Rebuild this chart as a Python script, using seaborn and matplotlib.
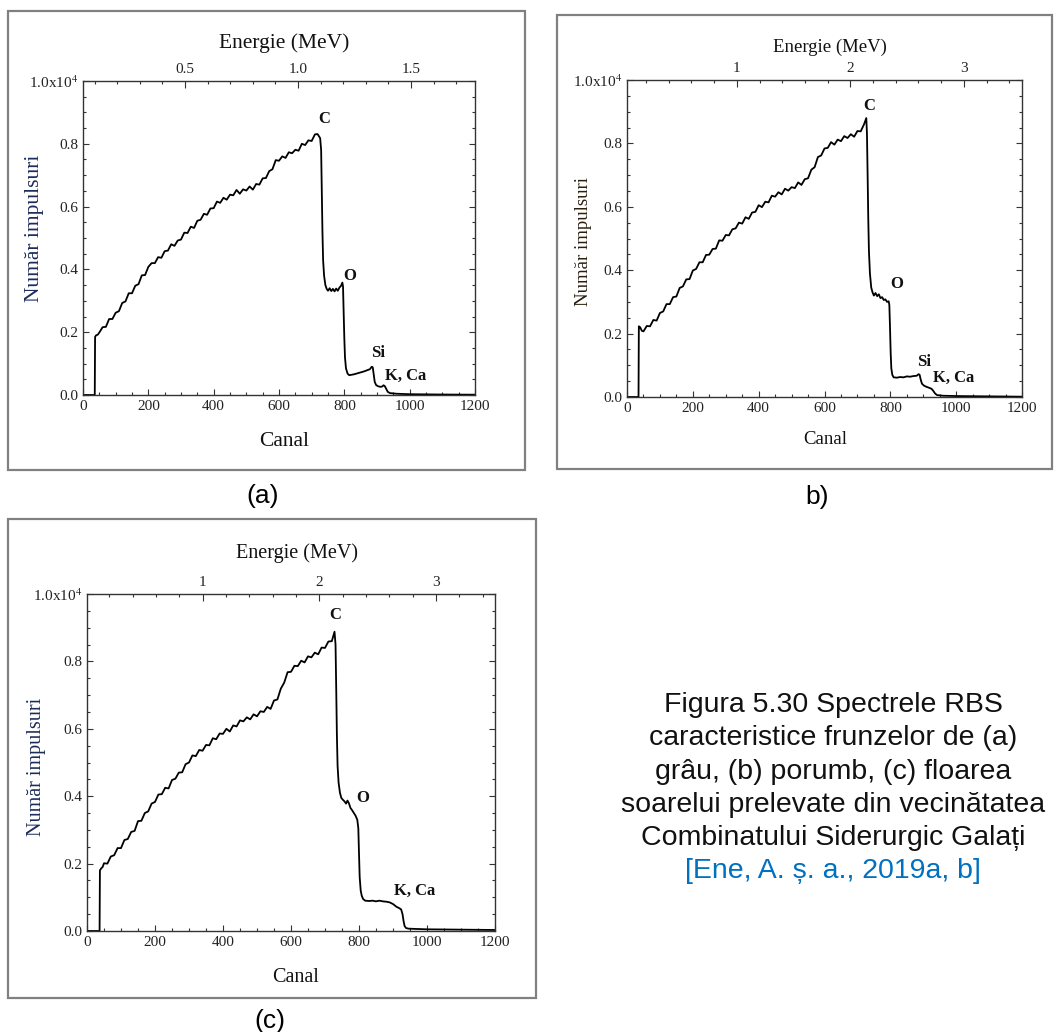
import matplotlib
matplotlib.use("Agg")
import matplotlib.pyplot as plt
import seaborn as sns
from matplotlib.patches import Rectangle
from matplotlib.ticker import MultipleLocator, FuncFormatter

# ---- data (channel, counts) ----
ch_a = [0, 36, 37, 40, 45, 50, 60, 70, 80, 90, 100, 110, 120, 130, 140, 150, 160, 170, 180, 190,
        200, 210, 220, 230, 240, 250, 260, 270, 280, 290, 300, 310, 320, 330, 340, 350, 360, 370,
        380, 390, 400, 410, 420, 430, 440, 450, 460, 470, 480, 490, 500, 510, 520, 530, 540, 550,
        560, 570, 580, 590, 600, 610, 620, 630, 640, 650, 660, 670, 680, 690, 700, 710, 718, 726,
        729, 731, 733, 735, 738, 742, 746, 750, 755, 760, 765, 770, 775, 780, 785, 790, 794, 796,
        798, 800, 802, 805, 810, 815, 820, 830, 840, 850, 860, 870, 878, 884, 887, 890, 893, 897,
        903, 910, 916, 920, 924, 928, 933, 940, 960, 1000, 1050, 1100, 1150, 1200]
counts_a = [0, 0, 1850, 1900, 1920, 1990, 2160, 2170, 2420, 2420, 2620, 2670, 2930, 2980, 3240,
            3240, 3480, 3530, 3810, 3820, 4080, 4200, 4200, 4390, 4370, 4580, 4600, 4800, 4750,
            4920, 4950, 5170, 5160, 5360, 5320, 5550, 5580, 5770, 5740, 5940, 5950, 6160, 6120,
            6280, 6220, 6380, 6360, 6530, 6410, 6550, 6510, 6640, 6540, 6720, 6700, 6900, 6910,
            7130, 7190, 7480, 7460, 7600, 7550, 7730, 7700, 7810, 7780, 8000, 7960, 8110, 8090,
            8300, 8310, 8180, 7800, 6500, 5200, 4300, 3800, 3500, 3380, 3320, 3400, 3310, 3380,
            3300, 3390, 3320, 3420, 3480, 3580, 3450, 2600, 1800, 1200, 850, 680, 630, 640, 660,
            690, 720, 750, 790, 820, 900, 880, 650, 420, 320, 280, 260, 270, 310, 280, 200, 100,
            60, 40, 25, 20, 15, 12, 10]

ch_b = [0, 35, 36, 40, 45, 50, 60, 70, 80, 90, 100, 110, 120, 130, 140, 150, 160, 170, 180, 190,
        200, 210, 220, 230, 240, 250, 260, 270, 280, 290, 300, 310, 320, 330, 340, 350, 360, 370,
        380, 390, 400, 410, 420, 430, 440, 450, 460, 470, 480, 490, 500, 510, 520, 530, 540, 550,
        560, 570, 580, 590, 600, 610, 620, 630, 640, 650, 660, 670, 680, 690, 700, 710, 720, 727,
        729, 731, 733, 735, 738, 742, 746, 750, 755, 760, 765, 770, 775, 780, 785, 790, 795, 797,
        799, 801, 803, 806, 810, 820, 830, 840, 850, 860, 870, 880, 886, 889, 892, 896, 902, 910,
        918, 925, 930, 936, 942, 960, 1000, 1050, 1100, 1150, 1200]
counts_b = [0, 0, 2230, 2200, 2090, 2070, 2240, 2230, 2430, 2410, 2650, 2700, 2930, 2930, 3150,
            3170, 3440, 3490, 3710, 3720, 3990, 4040, 4250, 4250, 4480, 4490, 4670, 4680, 4940,
            4930, 5110, 5100, 5290, 5320, 5500, 5470, 5670, 5620, 5820, 5840, 6050, 5990, 6160,
            6140, 6350, 6320, 6460, 6390, 6570, 6510, 6620, 6590, 6770, 6690, 6870, 6900, 7170,
            7250, 7570, 7620, 7840, 7860, 8040, 7960, 8120, 8070, 8230, 8170, 8290, 8210, 8390,
            8380, 8600, 8800, 8300, 7000, 5600, 4600, 3900, 3450, 3300, 3200, 3280, 3180, 3240,
            3120, 3150, 3060, 3080, 3000, 3020, 2900, 2200, 1400, 900, 700, 620, 610, 630, 620,
            650, 640, 660, 670, 720, 700, 560, 420, 360, 320, 290, 260, 200, 110, 60, 40, 30, 25,
            20, 15, 10]

ch_c = [0, 37, 38, 42, 46, 50, 60, 70, 80, 90, 100, 110, 120, 130, 140, 150, 160, 170, 180, 190,
        200, 210, 220, 230, 240, 250, 260, 270, 280, 290, 300, 310, 320, 330, 340, 350, 360, 370,
        380, 390, 400, 410, 420, 430, 440, 450, 460, 470, 480, 490, 500, 510, 520, 530, 540, 550,
        560, 570, 580, 590, 600, 610, 620, 630, 640, 650, 660, 670, 680, 690, 700, 710, 720, 728,
        731, 733, 735, 737, 740, 744, 748, 752, 757, 762, 766, 770, 775, 780, 785, 790, 795, 798,
        800, 802, 805, 808, 812, 818, 830, 840, 850, 860, 870, 880, 890, 900, 910, 918, 924, 928,
        931, 934, 938, 945, 970, 1000, 1050, 1100, 1150, 1200]
counts_c = [0, 0, 1800, 1860, 1900, 2010, 2000, 2210, 2250, 2460, 2460, 2700, 2730, 2940, 2970,
            3260, 3270, 3500, 3550, 3780, 3830, 4050, 4060, 4250, 4230, 4480, 4520, 4700, 4710,
            4950, 5000, 5210, 5190, 5370, 5350, 5520, 5510, 5720, 5690, 5860, 5850, 6000, 5920,
            6100, 6070, 6250, 6220, 6340, 6280, 6430, 6370, 6520, 6500, 6650, 6590, 6840, 6870,
            7190, 7370, 7680, 7690, 7870, 7860, 8020, 7970, 8150, 8120, 8260, 8210, 8410, 8400,
            8590, 8600, 8880, 8500, 7200, 5800, 4900, 4400, 4100, 3950, 3900, 3850, 3780, 3870,
            3800, 3650, 3580, 3500, 3420, 3300, 3050, 2300, 1600, 1200, 1050, 950, 900, 890, 900,
            880, 900, 880, 870, 850, 800, 720, 680, 640, 500, 300, 150, 90, 70, 60, 50, 45, 40,
            35, 30]

# energy calibration E = e0 + de * channel
energy_cal = {"a": (0.049, 0.001445), "b": (0.032, 0.00290), "c": (0.009, 0.002915)}
energy_ticks = {"a": [0.5, 1.0, 1.5], "b": [1, 2, 3], "c": [1, 2, 3]}
energy_minor = {"a": 0.1, "b": 0.2, "c": 0.2}

# element labels (text, channel, counts)
peaks_a = [("C", 738, 8790), ("O", 817, 3790), ("Si", 903, 1340), ("K, Ca", 989, 610)]
peaks_b = [("C", 736, 9180), ("O", 819, 3560), ("Si", 902, 1100), ("K, Ca", 991, 600)]
peaks_c = [("C", 731, 9390), ("O", 810, 3940), ("K, Ca", 964, 1190)]

caption_lines = ["Figura 5.30 Spectrele RBS",
                 "caracteristice frunzelor de (a)",
                 "grâu, (b) porumb, (c) floarea",
                 "soarelui prelevate din vecinătatea",
                 "Combinatului Siderurgic Galați"]
caption_ref = "[Ene, A. ș. a., 2019a, b]"

sns.set_style("ticks")
plt.rcParams["font.family"] = ["Liberation Serif", "DejaVu Serif"]
plt.rcParams["mathtext.fontset"] = "stix"

W, H = 1054, 1032
fig = plt.figure(figsize=(W / 100, H / 100), dpi=100)


def rect(l, t, r, b):
    return [l / W, 1 - b / H, (r - l) / W, (b - t) / H]


def ylab_fmt(v, pos):
    if abs(v - 10000) < 1:
        return "1.0x10$^4$"
    return f"{v / 1e4:.1f}"


panels = [
    dict(key="a", ch=ch_a, y=counts_a, peaks=peaks_a, box=(83, 81, 475, 395), frame=(8, 11, 525, 470),
         etitle=(284, 43), xlab=(284, 442), ylab=(35, 228), lab_fs=15.5, tick_fs=11,
         ycol="#1c2b5a", etick_fmt="{:.1f}", caption="(a)", cap_xy=(263, 496)),
    dict(key="b", ch=ch_b, y=counts_b, peaks=peaks_b, box=(627, 80, 1022, 397), frame=(557, 15, 1052, 469),
         etitle=(830, 47), xlab=(825, 439), ylab=(583, 242), lab_fs=13.5, tick_fs=11,
         ycol="#2b1d0e", etick_fmt="{:.0f}", caption="b)", cap_xy=(817, 497)),
    dict(key="c", ch=ch_c, y=counts_c, peaks=peaks_c, box=(87, 594, 495, 931), frame=(8, 519, 536, 998),
         etitle=(297, 553), xlab=(296, 977), ylab=(37, 767), lab_fs=14.5, tick_fs=11,
         ycol="#1c2b5a", etick_fmt="{:.0f}", caption="(c)", cap_xy=(270, 1021)),
]

for p in panels:
    l, t, r, b = p["box"]
    ax = fig.add_axes(rect(l, t, r, b))
    sns.lineplot(x=p["ch"], y=p["y"], ax=ax, color="black", lw=1.3, estimator=None, sort=False)
    ax.set_xlim(0, 1200)
    ax.set_ylim(0, 10000)
    ax.xaxis.set_major_locator(MultipleLocator(200))
    ax.xaxis.set_minor_locator(MultipleLocator(50))
    ax.yaxis.set_major_locator(MultipleLocator(2000))
    ax.yaxis.set_minor_locator(MultipleLocator(500))
    ax.yaxis.set_major_formatter(FuncFormatter(ylab_fmt))
    ax.tick_params(which="both", direction="in", left=True, right=True, bottom=True, top=False,
                   color="#333333", width=0.8, labelsize=p["tick_fs"], labelcolor="#222222")
    ax.tick_params(which="major", length=4)
    ax.tick_params(which="minor", length=2.5)
    for s in ax.spines.values():
        s.set_color("#333333")
        s.set_linewidth(1.0)

    ax.set_xlabel("Canal", fontsize=p["lab_fs"], color="#111111")
    ax.xaxis.set_label_coords((p["xlab"][0] - l) / (r - l), (b - p["xlab"][1]) / (b - t))
    ax.xaxis.label.set_va("center")
    ax.set_ylabel("Număr impulsuri", fontsize=p["lab_fs"], color=p["ycol"])
    ax.yaxis.set_label_coords((p["ylab"][0] - l) / (r - l), (b - p["ylab"][1]) / (b - t))
    ax.yaxis.label.set_va("center")

    # top energy axis
    e0, de = energy_cal[p["key"]]
    ax2 = ax.twiny()
    ax2.set_xlim(e0, e0 + de * 1200)
    ax2.set_xticks(energy_ticks[p["key"]])
    ax2.xaxis.set_major_formatter(FuncFormatter(lambda v, pos, f=p["etick_fmt"]: f.format(v)))
    ax2.xaxis.set_minor_locator(MultipleLocator(energy_minor[p["key"]]))
    ax2.tick_params(which="both", direction="in", color="#333333", width=0.8,
                    labelsize=p["tick_fs"], labelcolor="#222222")
    ax2.tick_params(which="major", length=5)
    ax2.tick_params(which="minor", length=2.5)
    ax2.set_xlabel("Energie (MeV)", fontsize=p["lab_fs"], color="#111111")
    ax2.xaxis.set_label_coords((p["etitle"][0] - l) / (r - l), (b - p["etitle"][1]) / (b - t))
    ax2.xaxis.label.set_va("center")
    for s in ax2.spines.values():
        s.set_visible(False)

    for txt, cx, cy in p["peaks"]:
        ax.text(cx, cy, txt, fontsize=12, fontweight="bold", ha="center", va="center", color="#111111")

    fl, ft, fr, fb = p["frame"]
    fig.add_artist(Rectangle((fl / W, 1 - fb / H), (fr - fl) / W, (fb - ft) / H,
                             transform=fig.transFigure, fill=False, ec="#808080", lw=1.6))
    fig.text(p["cap_xy"][0] / W, 1 - p["cap_xy"][1] / H, p["caption"], ha="center", va="center",
             fontsize=19, family="Liberation Sans", color="black")

# figure caption on the right
for i, line in enumerate(caption_lines):
    fig.text(833 / W, 1 - (705 + 33.3 * i) / H, line, ha="center", va="center",
             fontsize=20.5, family="Liberation Sans", color="#111111")
fig.text(833 / W, 1 - (705 + 33.3 * 5) / H, caption_ref, ha="center", va="center",
         fontsize=20.5, family="Liberation Sans", color="#0070c0")

fig.savefig("out.png", dpi=100, facecolor="white")
